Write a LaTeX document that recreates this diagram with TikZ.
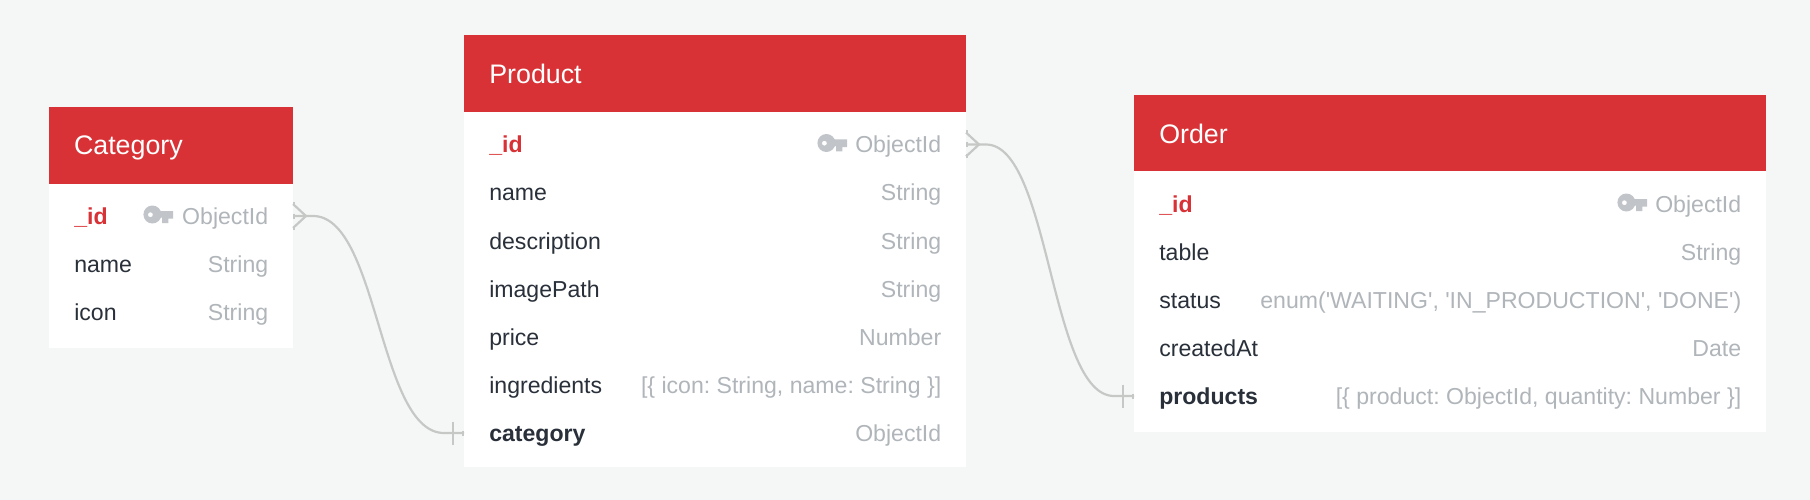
\documentclass[tikz,border=0pt]{standalone}
\usepackage{fontspec}
\setmainfont{Liberation Sans}
\usetikzlibrary{calc}
\frenchspacing
\definecolor{bgc}{HTML}{F5F7F7}
\definecolor{redc}{HTML}{D83236}
\definecolor{darkc}{HTML}{29303A}
\definecolor{grayc}{HTML}{B0B5BA}
\definecolor{keyc}{HTML}{C1C5CA}
\definecolor{linec}{HTML}{C6C8C6}
\tikzset{
  x=1pt,y=-1pt,
  every node/.style={inner sep=0pt,outer sep=0pt},
  bodybox/.style={anchor=north west,fill=white,minimum height=#1},
  headbox/.style={anchor=north west,fill=redc,minimum height=76.5pt},
  rowbox/.style={minimum height=48pt},
  titletext/.style={anchor=base west,text=white,font=\fontsize{26.8}{30}\selectfont},
  nametext/.style={anchor=base west,text=darkc,font=\fontsize{23.08}{27}\selectfont},
  boldname/.style={anchor=base west,text=darkc,font=\fontsize{23.08}{27}\selectfont\bfseries},
  idname/.style={anchor=base west,text=redc,font=\fontsize{23.08}{27}\selectfont\bfseries},
  typetext/.style={anchor=base east,text=grayc,font=\fontsize{23.08}{27}\selectfont},
  rel/.style={draw=linec,line width=2.2pt},
  relend/.style={draw=linec,line width=2.6pt},
}
% #1 id, #2 table left, #3 table width, #4 row centre y, #5 name style, #6 name, #7 type
\newcommand\erow[7]{%
  \node[rowbox,minimum width=#3pt,anchor=west] (#1) at (#2,#4) {};
  \node[#5] (#1-n) at ($(#2,#4)+(25.3,8)$) {#6};
  \node[typetext] (#1-t) at ($(#2,#4)+(#3,8)+(-24.8,0)$) {#7};
}
\newcommand\keyicon[2]{%
  \begin{scope}[shift={(#1,#2)}]
    \fill[keyc,even odd rule] (-114.6,-1.5) circle[radius=9] (-116.6,-1.3) circle[radius=2.5];
    \fill[keyc] (-110,-5) -- (-93.8,-5) -- (-93.8,2.6) -- (-98.6,2.6) -- (-98.6,7) -- (-105,7) -- (-105,1.6) -- (-110,1.6) -- cycle;
  \end{scope}
}
% crow's foot at the start of a relation, tick at its end
\newcommand\relation[2]{%
  \draw[rel] (#1.east) -- ++(20,0)
    .. controls ($(#1.east)!0.5!(#1.east -| #2.west)$) and ($(#2.west)!0.5!(#2.west -| #1.east)$)
    .. ($(#2.west)+(-20,0)$) -- (#2.west);
  \draw[rel] ($(#1.east)+(0,-12)$) -- ($(#1.east)+(13,0)$) -- ($(#1.east)+(0,12)$);
  \draw[relend] ($(#1.east)+(1,-14)$) -- ++(0,4);
  \draw[relend] ($(#1.east)+(1,-2.5)$) -- ++(0,5);
  \draw[relend] ($(#1.east)+(1,10)$) -- ++(0,4);
  \draw[rel] ($(#2.west)+(-11,-11.5)$) -- ($(#2.west)+(-11,11.5)$);
  \draw[relend] ($(#2.west)+(-1,-2.5)$) -- ++(0,5);
}
\begin{document}
\begin{tikzpicture}
\fill[bgc] (0,0) rectangle (1810,500);
\useasboundingbox (0,0) rectangle (1810,500);

% Category
\node[bodybox=240.5pt,minimum width=244pt] (cat) at (49,107) {};
\node[headbox,minimum width=244pt] (cat-head) at (49,107) {};
\node[titletext] (cat-title) at (74,155) {Category};
\erow{cat-id}{49}{244}{216}{idname}{\_id}{ObjectId}
\erow{cat-name}{49}{244}{264}{nametext}{name}{String}
\erow{cat-icon}{49}{244}{312}{nametext}{icon}{String}
\keyicon{267}{216}

% Product
\node[bodybox=432pt,minimum width=502pt] (prod) at (464,35) {};
\node[headbox,minimum height=77pt,minimum width=502pt] (prod-head) at (464,35) {};
\node[titletext] (prod-title) at (489.3,83.3) {Product};
\erow{prod-id}{464}{502}{144.5}{idname}{\_id}{ObjectId}
\erow{prod-name}{464}{502}{192.5}{nametext}{name}{String}
\erow{prod-desc}{464}{502}{241}{nametext}{description}{String}
\erow{prod-img}{464}{502}{289}{nametext}{imagePath}{String}
\erow{prod-price}{464}{502}{337}{nametext}{price}{Number}
\erow{prod-ingr}{464}{502}{385}{nametext}{ingredients}{[\{ icon: String, name: String \}]}
\erow{prod-cat}{464}{502}{433}{boldname}{category}{ObjectId}
\keyicon{941}{144.5}

% Order
\node[bodybox=337pt,minimum width=632pt] (ord) at (1134,95) {};
\node[headbox,minimum width=632pt] (ord-head) at (1134,95) {};
\node[titletext] (ord-title) at (1159.3,143) {Order};
\erow{ord-id}{1134}{632}{204}{idname}{\_id}{ObjectId}
\erow{ord-table}{1134}{632}{252}{nametext}{table}{String}
\erow{ord-status}{1134}{632}{300}{nametext}{status}{enum(\textquotesingle WAITING\textquotesingle, \textquotesingle IN\_PRODUCTION\textquotesingle, \textquotesingle DONE\textquotesingle)}
\erow{ord-created}{1134}{632}{348}{nametext}{createdAt}{Date}
\erow{ord-prods}{1134}{632}{396}{boldname}{products}{[\{ product: ObjectId, quantity: Number \}]}
\keyicon{1741}{204}

% Relations
\relation{cat-id}{prod-cat}
\relation{prod-id}{ord-prods}
\end{tikzpicture}
\end{document}
